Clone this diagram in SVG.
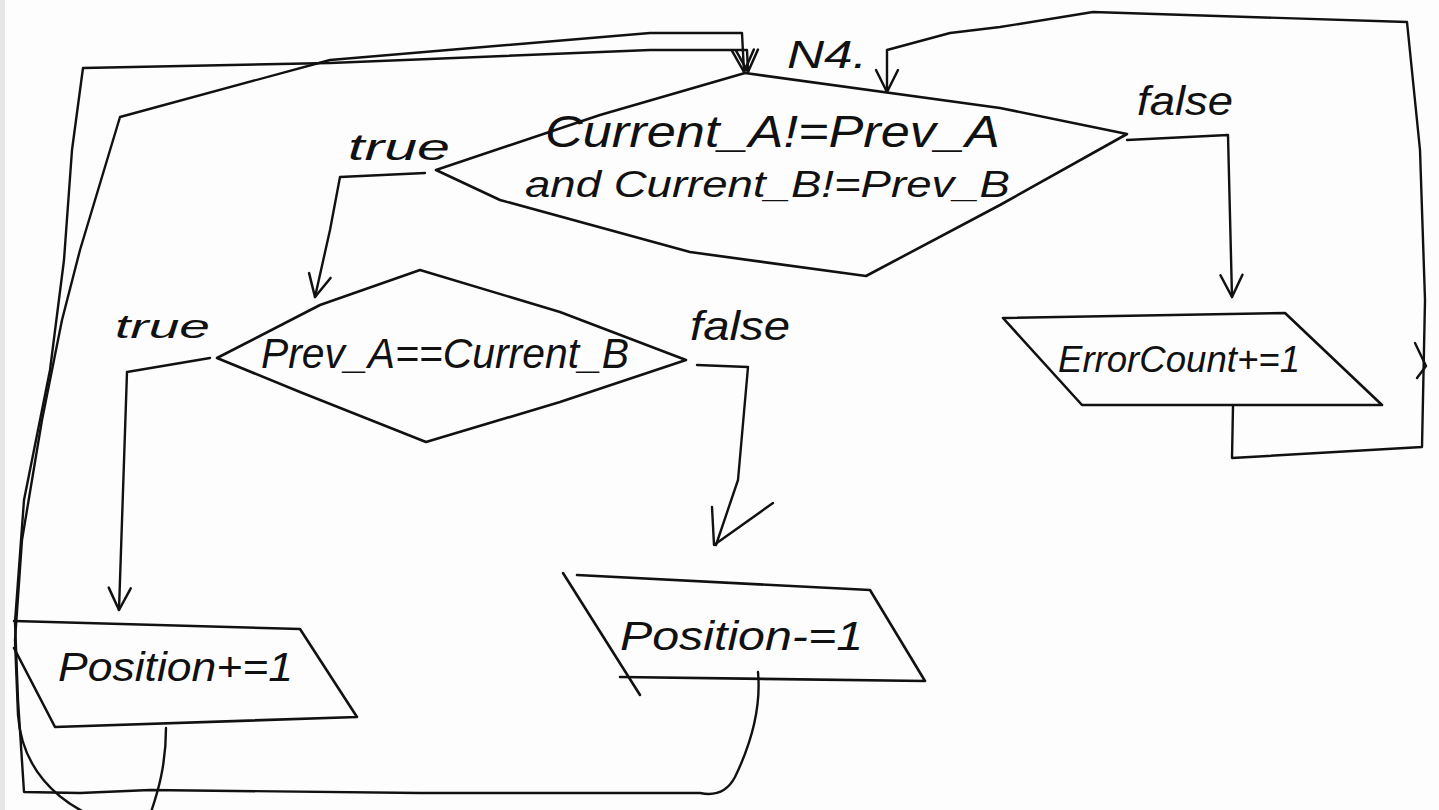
<svg xmlns="http://www.w3.org/2000/svg" width="1439" height="810" viewBox="0 0 1439 810">
  <style>
    .shape { fill: none; stroke: #111; stroke-width: 2.6; stroke-linejoin: round; stroke-linecap: round; }
    .wire { fill: none; stroke: #111; stroke-width: 2.4; stroke-linejoin: round; stroke-linecap: round; }
    .lbl { font-family: "Liberation Sans", "DejaVu Sans", sans-serif; font-style: italic; fill: #111; }
  </style>
  <defs>
    <marker id="ah" viewBox="-28 -16 32 32" refX="0" refY="0" markerWidth="32" markerHeight="32" markerUnits="userSpaceOnUse" orient="auto">
      <path d="M-22,-11 L0,0 L-22,11" fill="none" stroke="#111" stroke-width="2.5" stroke-linecap="round" stroke-linejoin="round"/>
    </marker>
  </defs>

  <!-- paper -->
  <rect x="0" y="0" width="1439" height="810" fill="#fdfdfd"/>
  <rect x="0" y="0" width="5" height="810" fill="#e6e6e6"/>

  <!-- connectors -->
  <g id="connectors">
    <!-- Position-=1 back to N4 -->
    <path class="wire" marker-end="url(#ah)" d="M758,672 C761,705 752,742 735,777 Q724,798 700,793 L420,793 L150,790 L80,793 L24,792 L18,700 L15,622 L24,500 L50,370 L64,260 L72,150 L83,68 L330,63 L650,50 L747,50 L748,72"/>
    <!-- Position+=1 back to N4 -->
    <path class="wire" marker-end="url(#ah)" d="M166,728 C166,765 158,792 150,815 L90,815 C58,800 22,770 18,715 L15,640 L22,540 L42,420 L62,320 L80,250 L120,117 L330,60 L650,33 L742,33 L744,72"/>
    <!-- ErrorCount+=1 back to N4 -->
    <path class="wire" marker-end="url(#ah)" d="M1233,406 L1232,458 L1422,447 L1425,300 L1420,150 L1407,22 L1093,12 L1000,27 L950,33 L887,50 L887,92"/>
    <path class="wire" d="M1415,343 L1426,366 L1417,378"/>
    <!-- main decision: false -->
    <path class="wire" marker-end="url(#ah)" d="M1127,140 L1228,135 L1232,297"/>
    <!-- main decision: true -->
    <path class="wire" marker-end="url(#ah)" d="M425,173 L340,177 L330,230 L315,297"/>
    <!-- second decision: true -->
    <path class="wire" marker-end="url(#ah)" d="M210,358 L127,372 L119,610"/>
    <!-- second decision: false -->
    <path class="wire" d="M697,365 L748,367 L738,480 L716,545"/>
    <path class="wire" d="M712,507 L714,545 L773,503"/>
  </g>

  <!-- loop entry label -->
  <g id="n4">
    <text class="lbl" x="787" y="68" font-size="38" textLength="80" lengthAdjust="spacingAndGlyphs">N4.</text>
  </g>

  <!-- main decision -->
  <g id="cond-main">
    <path class="shape" d="M745,73 L1000,108 L1127,134 L1000,205 L866,276 L690,252 L500,200 L436,170 L600,115 Z"/>
    <text class="lbl" x="545" y="147" font-size="44" textLength="455" lengthAdjust="spacingAndGlyphs">Current_A!=Prev_A</text>
    <text class="lbl" x="525" y="197" font-size="36" textLength="485" lengthAdjust="spacingAndGlyphs">and Current_B!=Prev_B</text>
    <text class="lbl" x="348" y="160" font-size="36" textLength="102" lengthAdjust="spacingAndGlyphs">true</text>
    <text class="lbl" x="1137" y="115" font-size="40" textLength="96" lengthAdjust="spacingAndGlyphs">false</text>
  </g>

  <!-- second decision -->
  <g id="cond-prev">
    <path class="shape" d="M420,270 L560,312 L686,360 L560,402 L426,442 L300,392 L217,358 L320,305 Z"/>
    <text class="lbl" x="261" y="368" font-size="42" textLength="368" lengthAdjust="spacingAndGlyphs">Prev_A==Current_B</text>
    <text class="lbl" x="115" y="338" font-size="34" textLength="95" lengthAdjust="spacingAndGlyphs">true</text>
    <text class="lbl" x="690" y="340" font-size="40" textLength="100" lengthAdjust="spacingAndGlyphs">false</text>
  </g>

  <!-- ErrorCount+=1 -->
  <g id="err-inc">
    <path class="shape" d="M1003,318 L1285,313 L1382,405 L1082,405 Z"/>
    <text class="lbl" x="1058" y="372" font-size="36" textLength="242" lengthAdjust="spacingAndGlyphs">ErrorCount+=1</text>
  </g>

  <!-- Position+=1 -->
  <g id="pos-inc">
    <path class="shape" d="M14,621 L300,629 L357,717 L55,727 L14,648"/>
    <text class="lbl" x="58" y="681" font-size="40" textLength="235" lengthAdjust="spacingAndGlyphs">Position+=1</text>
  </g>

  <!-- Position-=1 -->
  <g id="pos-dec">
    <path class="shape" d="M577,575 L870,590 L925,681 L620,677"/>
    <path class="shape" d="M563,573 L640,695"/>
    <text class="lbl" x="620" y="650" font-size="40" textLength="243" lengthAdjust="spacingAndGlyphs">Position-=1</text>
  </g>
</svg>
